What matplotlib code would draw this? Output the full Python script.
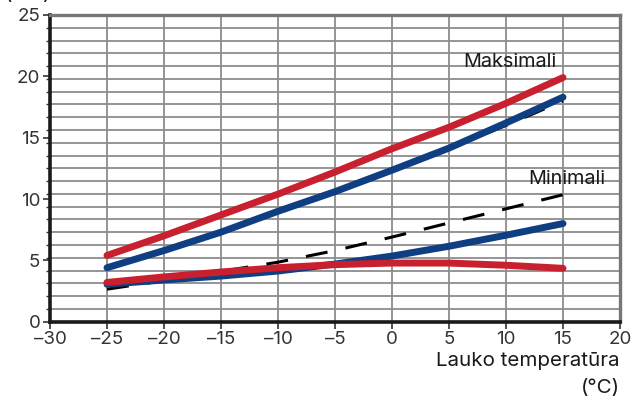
import numpy as np
import matplotlib
matplotlib.use("Agg")
import matplotlib.pyplot as plt
from matplotlib.ticker import MultipleLocator, FixedLocator

plt.rcParams['font.family'] = ['Inter', 'DejaVu Sans']

# Outdoor temperature [°C]
temps = [-25, -20, -15, -10, -5, 0, 5, 10, 15]

# Upper curves (Maksimali)
max_red = [5.4, 7.0, 8.7, 10.4, 12.2, 14.1, 15.85, 17.8, 19.9]
max_blue = [4.4, 5.8, 7.3, 9.0, 10.6, 12.35, 14.15, 16.2, 18.3]
max_dash = [4.4, 5.85, 7.4, 9.1, 10.7, 12.4, 14.1, 16.0, 18.0]

# Lower curves (Minimali)
min_red = [3.2, 3.65, 4.05, 4.4, 4.65, 4.78, 4.78, 4.6, 4.35]
min_blue = [3.05, 3.4, 3.72, 4.13, 4.7, 5.35, 6.15, 7.05, 8.0]
min_dash = [2.65, 3.35, 4.1, 4.85, 5.8, 6.9, 8.05, 9.2, 10.35]

RED = "#c8202e"
BLUE = "#0f3f82"
GRID = "#8c8c8c"
INK = "#1a1a1a"

fig = plt.figure(figsize=(6.31, 3.99), dpi=100)
ax = fig.add_axes([50 / 631, 1 - 321.7 / 399, 570 / 631, 306.7 / 399])

# dashed reference lines go underneath
for ys in (max_dash, min_dash):
    ax.plot(temps, ys, color="black", lw=2.2, dashes=(7.2, 6.0), zorder=3)

for ys, c in ((max_red, RED), (max_blue, BLUE), (min_blue, BLUE), (min_red, RED)):
    ax.plot(temps, ys, color=c, lw=5, solid_capstyle="round", zorder=4)

ax.set_xlim(-30, 20)
ax.set_ylim(0, 25)
ax.xaxis.set_major_locator(MultipleLocator(5))
ax.yaxis.set_major_locator(MultipleLocator(5))
ax.yaxis.set_minor_locator(FixedLocator(np.linspace(0, 25, 25)))
ax.set_xticklabels([f"{int(t)}".replace("-", "\u2013") for t in ax.get_xticks()])

ax.grid(True, axis="x", which="major", color=GRID, lw=1.3, zorder=1)
ax.grid(True, axis="y", which="minor", color=GRID, lw=1.3, zorder=1)

ax.tick_params(axis="both", which="major", labelsize=13.5, color="#333333",
               length=5, width=1.2, labelcolor="#333333", pad=2)
ax.tick_params(axis="y", which="minor", length=3, width=1.0, color="#333333")
ax.tick_params(axis="x", which="minor", length=0)

for side in ("left", "bottom"):
    ax.spines[side].set_linewidth(2.6)
    ax.spines[side].set_color(INK)
for side in ("top", "right"):
    ax.spines[side].set_linewidth(2.4)
    ax.spines[side].set_color("#777777")

ax.text(10.35, 21.2, "Maksimali", fontsize=14.3, ha="center", va="center",
        color=INK, zorder=5)
ax.text(15.35, 11.6, "Minimali", fontsize=14.3, ha="center", va="center",
        color=INK, zorder=5)

fig.text(620 / 631, 1 - 361 / 399, "Lauko temperatūra", fontsize=14.8,
         ha="right", va="center", color=INK)
fig.text(620 / 631, 1 - 388 / 399, "(°C)", fontsize=14.8,
         ha="right", va="center", color=INK)
fig.text(5 / 631, 1 - 3 / 399, "(kW)", fontsize=14.8, ha="left", va="bottom",
         color=INK)

fig.savefig("out.png", dpi=100)
